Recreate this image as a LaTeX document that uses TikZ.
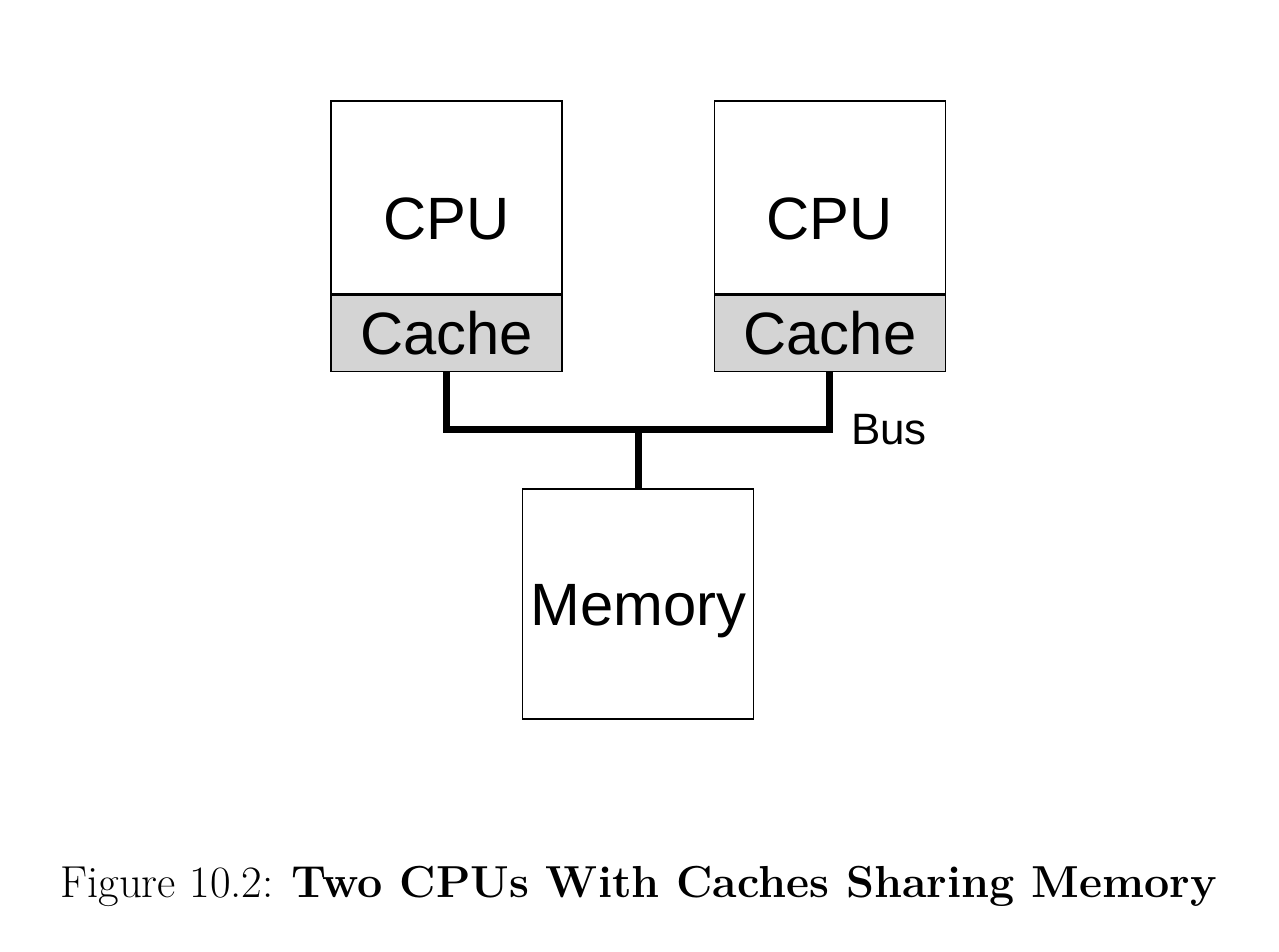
\documentclass[tikz,border=0pt]{standalone}
\usepackage{fontspec}
\newfontfamily\arialfont{Liberation Sans}
\usetikzlibrary{positioning,calc}

\begin{document}
\begin{tikzpicture}[
    unit/.style={draw,line width=0.8pt,inner sep=0pt,minimum width=4.62cm,text depth=0pt,font=\arialfont\fontsize{34}{40}\selectfont},
    cpubox/.style={unit,minimum height=3.86cm,text height=1.7cm},
    cachebox/.style={unit,fill=black!17,minimum height=1.52cm,text height=0.86cm},
    membox/.style={unit,minimum height=4.6cm,text height=0.86cm},
    bus/.style={line width=4pt}]
  \useasboundingbox (0,0) rectangle (25.58,19.02);
  \node[cpubox] (cpuL) at (8.93,15.07) {CPU};
  \node[cachebox,below=0pt of cpuL] (cacheL) {Cache};
  \node[cpubox,right=3.02cm of cpuL] (cpuR) {CPU};
  \node[cachebox,below=0pt of cpuR] (cacheR) {Cache};
  % shared bus
  \coordinate (busL) at ($(cacheL.south)+(0,-1.14)$);
  \coordinate (busR) at (cacheR.south |- busL);
  \coordinate (busM) at ($(busL)!0.5!(busR)$);
  \node[membox,below=1.18cm of busM] (mem) {Memory};
  \draw[bus] (cacheL.south) -- (busL) -- (busR) -- (cacheR.south);
  \draw[bus] (busM) -- (mem.north);
  \node[right=0.42cm of busR,inner sep=0pt,text height=0.63cm,text depth=0pt,font=\arialfont\fontsize{25}{30}\selectfont] (buslab) {Bus};
  \node[anchor=base,font=\fontsize{25.5}{30}\selectfont] (caption) at (12.77,1.08) {Figure 10.2: \textbf{Two CPUs With Caches Sharing Memory}};
\end{tikzpicture}
\end{document}
